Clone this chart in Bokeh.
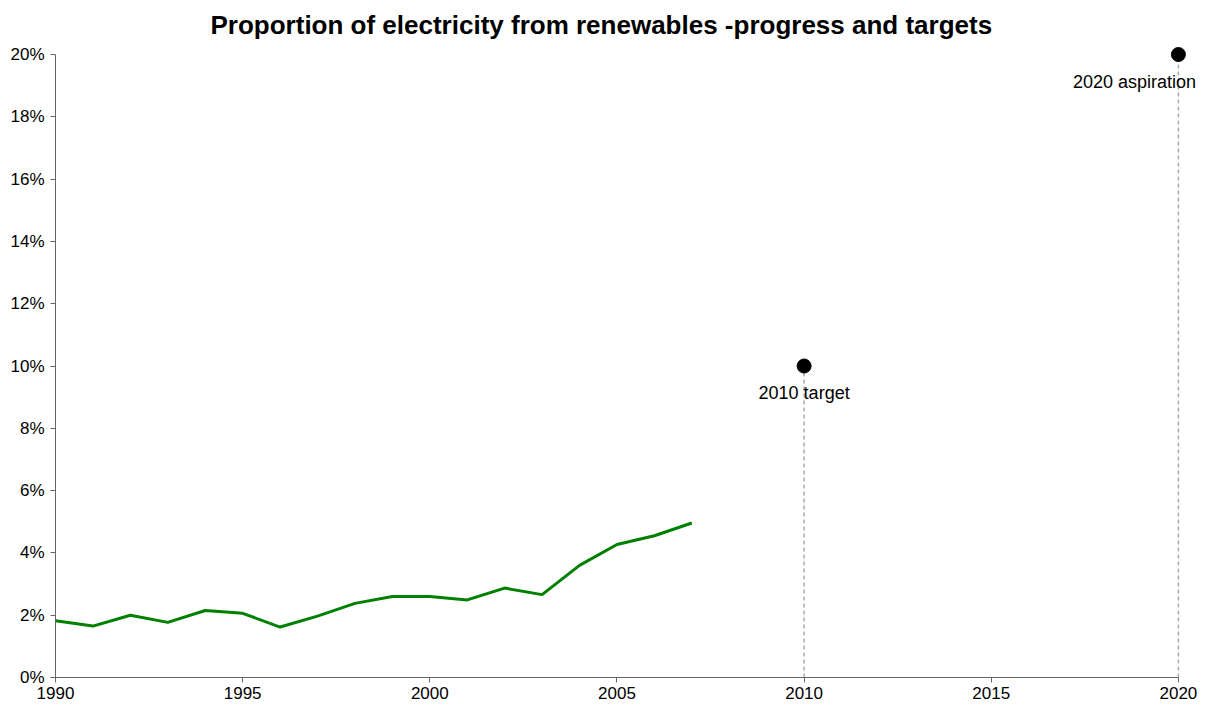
from bokeh.plotting import figure
from bokeh.models import ColumnDataSource, NumeralTickFormatter, FixedTicker, Range1d
from bokeh.embed import file_html
from bokeh.resources import INLINE
from bokeh.core.properties import value

years = list(range(1990, 2008))
share = [0.0182, 0.0165, 0.0200, 0.0177, 0.0215, 0.0206, 0.0162, 0.0197, 0.0238,
         0.0260, 0.0260, 0.0249, 0.0287, 0.0266, 0.0360, 0.0427, 0.0455, 0.0496]

target_years = [2010, 2020]
target_values = [0.10, 0.20]
target_labels = ["2010 target", "2020 aspiration"]

x_ticks = [1990, 1995, 2000, 2005, 2010, 2015, 2020]
y_ticks = [0.0, 0.02, 0.04, 0.06, 0.08, 0.10, 0.12, 0.14, 0.16, 0.18, 0.20]

FONT = "Liberation Sans"

p = figure(width=1205, height=709, output_backend="svg", toolbar_location=None,
           x_range=Range1d(1990, 2020.67), y_range=Range1d(0, 0.2045),
           min_border_left=55, min_border_right=2, min_border_top=40, min_border_bottom=32,
           title="Proportion of electricity from renewables -progress and targets")
p.outline_line_color = None
p.xgrid.visible = False
p.ygrid.visible = False
p.title.align = "left"
p.title.offset = 155
p.title.standoff = 2
p.title.text_font = FONT
p.title.text_font_size = "26px"
p.title.text_font_style = "bold"
p.title.text_color = "black"

for ax in (p.xaxis, p.yaxis):
    ax.major_label_text_font = FONT
    ax.major_label_text_font_size = "17px"
    ax.major_label_text_color = "black"
    ax.minor_tick_line_color = None
    ax.major_tick_in = 0
    ax.major_tick_out = 5
    ax.axis_line_color = "#666666"
    ax.major_tick_line_color = "#666666"

p.xaxis.ticker = FixedTicker(ticks=x_ticks)
p.yaxis.ticker = FixedTicker(ticks=y_ticks)
p.yaxis.formatter = NumeralTickFormatter(format="0%")
p.xaxis.bounds = (1990, 2020)
p.yaxis.bounds = (0, 0.20)
p.yaxis.major_label_standoff = 6
p.xaxis.major_label_standoff = 4

# dashed drop lines for targets
p.segment(x0=target_years, y0=[0, 0], x1=target_years, y1=target_values,
          line_color="#aaaaaa", line_width=1.5, line_dash="4 3")

p.line(years, share, line_color="#008000", line_width=3)

src = ColumnDataSource(dict(x=target_years, y=target_values, label=target_labels,
                            xo=[0, -44]))
p.scatter("x", "y", source=src, size=14, color="black")
p.text("x", "y", text="label", source=src, x_offset="xo", y_offset=27,
       text_align="center", text_baseline="middle",
       text_font=value(FONT), text_font_size="18px", text_color="black")

open("out.html", "w").write(file_html(p, INLINE))
